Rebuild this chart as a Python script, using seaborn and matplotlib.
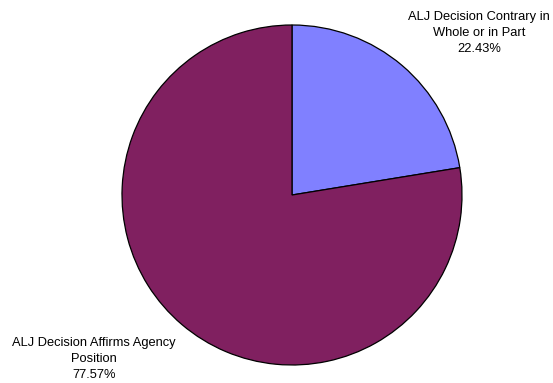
import matplotlib
matplotlib.use("Agg")
import matplotlib.pyplot as plt
import seaborn as sns

categories = ["ALJ Decision Contrary in\nWhole or in Part", "ALJ Decision Affirms Agency\nPosition"]
shares = [22.43, 77.57]
slice_colors = ["#8080FF", "#802060"]

sns.set_theme(style="white")
plt.rcParams["font.family"] = ["Liberation Sans", "DejaVu Sans"]

W, H = 553, 383
fig = plt.figure(figsize=(W / 100, H / 100), dpi=100)
cx, cy, r = 292, 195, 170
ax = fig.add_axes([(cx - r) / W, (H - cy - r) / H, 2 * r / W, 2 * r / H])

wedges, _ = ax.pie(
    shares,
    colors=slice_colors,
    startangle=90,
    counterclock=False,
    radius=1.0,
    wedgeprops=dict(edgecolor="black", linewidth=0.9),
)
ax.set_xlim(-1, 1)
ax.set_ylim(-1, 1)
ax.set_aspect("equal")
ax.axis("off")

label_pos = [(479, 33), (94, 359)]
for (lx, ly), name, val in zip(label_pos, categories, shares):
    fig.text(lx / W, 1 - ly / H, f"{name}\n{val:.2f}%", ha="center", va="center",
             fontsize=9.3, linespacing=1.45, color="black")

fig.savefig("out.png", dpi=100, facecolor="white")
